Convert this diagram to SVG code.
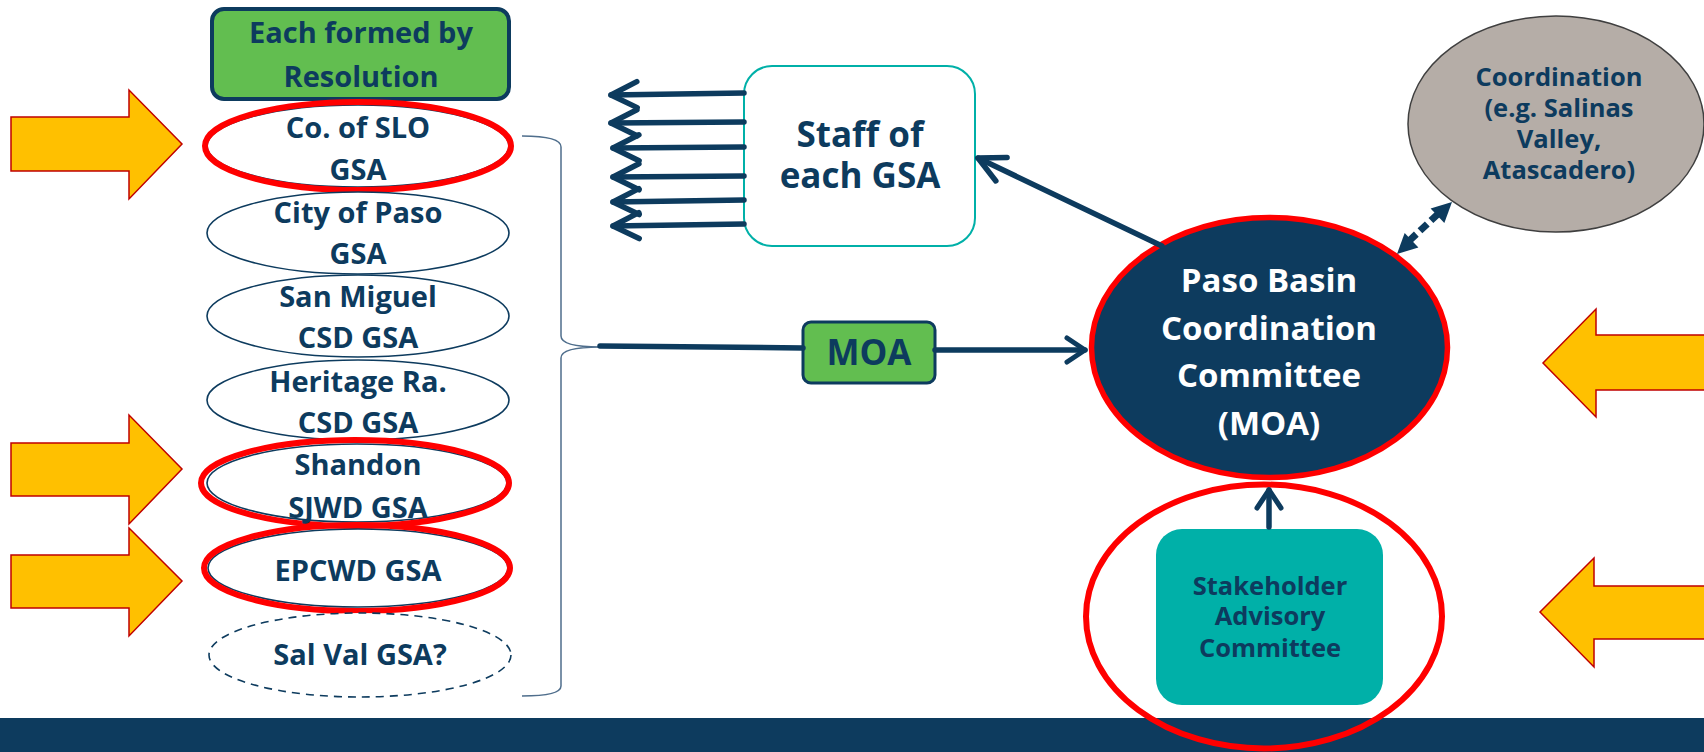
<svg xmlns="http://www.w3.org/2000/svg" width="1704" height="752" viewBox="0 0 1704 752">
<defs>
<style>
.t{font-family:"Open Sans","Liberation Sans",sans-serif;font-weight:700;fill:#0D3B5E;text-anchor:middle}
.gsa{fill:#fff;stroke:#0D3B5E;stroke-width:1.6}
.hl{fill:none;stroke:#FF0000;stroke-width:6}
.yel{fill:#FFC000;stroke:#C00000;stroke-width:1.5}
.con{fill:none;stroke:#0D3B5E;stroke-width:5.5;stroke-linecap:round}
</style>
<marker id="chev" viewBox="-30 -16 34 32" refX="0" refY="0" markerWidth="34" markerHeight="32" markerUnits="userSpaceOnUse" orient="auto" overflow="visible">
<path d="M-26,-13 L0,0 L-26,13" fill="none" stroke="#0D3B5E" stroke-width="5.5" stroke-linecap="round" stroke-linejoin="round"/>
</marker>
<marker id="chevS" viewBox="-22 -15 26 30" refX="0" refY="0" markerWidth="26" markerHeight="30" markerUnits="userSpaceOnUse" orient="auto" overflow="visible">
<path d="M-18,-12 L0,0 L-18,12" fill="none" stroke="#0D3B5E" stroke-width="5" stroke-linecap="round" stroke-linejoin="round"/>
</marker>
<marker id="tri" viewBox="-22 -12 24 24" refX="0" refY="0" markerWidth="24" markerHeight="24" markerUnits="userSpaceOnUse" orient="auto-start-reverse" overflow="visible">
<path d="M-20,-10 L0,0 L-20,10 Z" fill="#0D3B5E"/>
</marker>
</defs>
<rect width="1704" height="752" fill="#fff"/>
<rect id="band" x="0" y="718" width="1704" height="34" fill="#0D3B5E"/>

<g id="yellow-arrows">
<polygon class="yel" points="11,117 129,117 129,90 182,144 129,199 129,171 11,171"/>
<polygon class="yel" points="11,443 129,443 129,415 182,469 129,524 129,496 11,496"/>
<polygon class="yel" points="11,555 129,555 129,528 182,581 129,636 129,608 11,608"/>
<polygon class="yel" points="1710,335 1596,335 1596,309 1543,363 1596,417 1596,390 1710,390"/>
<polygon class="yel" points="1710,586 1594,586 1594,558 1540,612 1594,667 1594,639 1710,639"/>
</g>

<g id="resolution">
<rect x="212" y="9" width="297" height="90" rx="12" fill="#62BE50" stroke="#0D3B5E" stroke-width="4"/>
<text class="t" x="361" y="43" font-size="29">Each formed by</text>
<text class="t" x="361" y="87" font-size="29">Resolution</text>
</g>

<g id="gsa-slo">
<ellipse class="gsa" cx="358" cy="146" rx="151" ry="41"/>
<ellipse class="hl" cx="358" cy="146" rx="153" ry="44"/>
<text class="t" x="358" y="138" font-size="29">Co. of SLO</text>
<text class="t" x="358" y="180" font-size="29">GSA</text>
</g>
<g id="gsa-paso">
<ellipse class="gsa" cx="358" cy="233" rx="151" ry="41"/>
<text class="t" x="358" y="223" font-size="29">City of Paso</text>
<text class="t" x="358" y="264" font-size="29">GSA</text>
</g>
<g id="gsa-sanmiguel">
<ellipse class="gsa" cx="358" cy="316" rx="151" ry="41"/>
<text class="t" x="358" y="307" font-size="29">San Miguel</text>
<text class="t" x="358" y="348" font-size="29">CSD GSA</text>
</g>
<g id="gsa-heritage">
<ellipse class="gsa" cx="358" cy="400" rx="151" ry="40"/>
<text class="t" x="358" y="392" font-size="29">Heritage Ra.</text>
<text class="t" x="358" y="433" font-size="29">CSD GSA</text>
</g>
<g id="gsa-shandon">
<ellipse class="gsa" cx="357" cy="483" rx="150" ry="39"/>
<ellipse class="hl" cx="355" cy="483" rx="154" ry="43"/>
<text class="t" x="358" y="475" font-size="29">Shandon</text>
<text class="t" x="358" y="518" font-size="29">SJWD GSA</text>
</g>
<g id="gsa-epcwd">
<ellipse class="gsa" cx="358" cy="568" rx="150" ry="39"/>
<ellipse class="hl" cx="357" cy="568" rx="153" ry="43"/>
<text class="t" x="358" y="581" font-size="29">EPCWD GSA</text>
</g>
<g id="gsa-salval">
<ellipse cx="360" cy="655" rx="151" ry="42" fill="#fff" stroke="#0D3B5E" stroke-width="1.6" stroke-dasharray="8 6"/>
<text class="t" x="360" y="665" font-size="29">Sal Val GSA?</text>
</g>

<g id="staff">
<rect x="744" y="66" width="231" height="180" rx="28" fill="#fff" stroke="#00B0A8" stroke-width="2"/>
<text class="t" x="860" y="147" font-size="35">Staff of</text>
<text class="t" x="860" y="188" font-size="35">each GSA</text>
</g>

<g id="moa">
<rect x="803" y="322" width="132" height="61" rx="8" fill="#62BE50" stroke="#0D3B5E" stroke-width="3"/>
<text class="t" x="869" y="365" font-size="35">MOA</text>
</g>

<g id="coordination">
<ellipse cx="1556" cy="124" rx="148" ry="108" fill="#B5ADA7" stroke="#3F3F3F" stroke-width="1.5"/>
<text class="t" x="1559" y="86" font-size="25.5">Coordination</text>
<text class="t" x="1559" y="117" font-size="25.5">(e.g. Salinas</text>
<text class="t" x="1559" y="148" font-size="25.5">Valley,</text>
<text class="t" x="1559" y="179" font-size="25.5">Atascadero)</text>
</g>

<g id="paso-basin">
<ellipse cx="1269.5" cy="347.5" rx="178" ry="130" fill="#0D3B5E" stroke="#FF0000" stroke-width="5.5"/>
<text class="t" x="1269" y="292" font-size="33" style="fill:#fff">Paso Basin</text>
<text class="t" x="1269" y="340" font-size="33" style="fill:#fff">Coordination</text>
<text class="t" x="1269" y="387" font-size="33" style="fill:#fff">Committee</text>
<text class="t" x="1269" y="435" font-size="33" style="fill:#fff">(MOA)</text>
</g>

<g id="stakeholder">
<rect x="1156" y="529" width="227" height="176" rx="26" fill="#00B0A8"/>
<text class="t" x="1270" y="595" font-size="25.5">Stakeholder</text>
<text class="t" x="1270" y="625" font-size="25.5">Advisory</text>
<text class="t" x="1270" y="657" font-size="25.5">Committee</text>
<ellipse class="hl" cx="1264" cy="616.5" rx="178" ry="132"/>
</g>

<g id="connectors">
<path d="M522,136 Q561,136 561,147 L561,336 Q561,347 600,347 Q561,347 561,358 L561,686 Q561,696 522,696" fill="none" stroke="#4F6E8C" stroke-width="1.5"/>
<line class="con" x1="600" y1="346" x2="803" y2="348" stroke-linecap="butt"/>
<line class="con" x1="935" y1="350" x2="1085" y2="350" marker-end="url(#chevS)"/>
<line class="con" x1="744" y1="93" x2="611" y2="95" marker-end="url(#chev)"/>
<line class="con" x1="744" y1="122" x2="611" y2="123" marker-end="url(#chev)"/>
<line class="con" x1="744" y1="147" x2="613" y2="148" marker-end="url(#chev)"/>
<line class="con" x1="744" y1="176" x2="613" y2="177" marker-end="url(#chev)"/>
<line class="con" x1="744" y1="200" x2="613" y2="202" marker-end="url(#chev)"/>
<line class="con" x1="744" y1="224" x2="613" y2="226" marker-end="url(#chev)"/>
<line class="con" x1="1162" y1="246" x2="978" y2="158" marker-end="url(#chev)"/>
<line class="con" x1="1269" y1="527" x2="1269" y2="490" marker-end="url(#chevS)"/>
<line x1="1409" y1="241" x2="1439" y2="213" stroke="#0D3B5E" stroke-width="7" stroke-dasharray="10 5"/>
<line x1="1397" y1="254" x2="1452" y2="202" stroke="none" marker-start="url(#tri)" marker-end="url(#tri)"/>
</g>
</svg>
